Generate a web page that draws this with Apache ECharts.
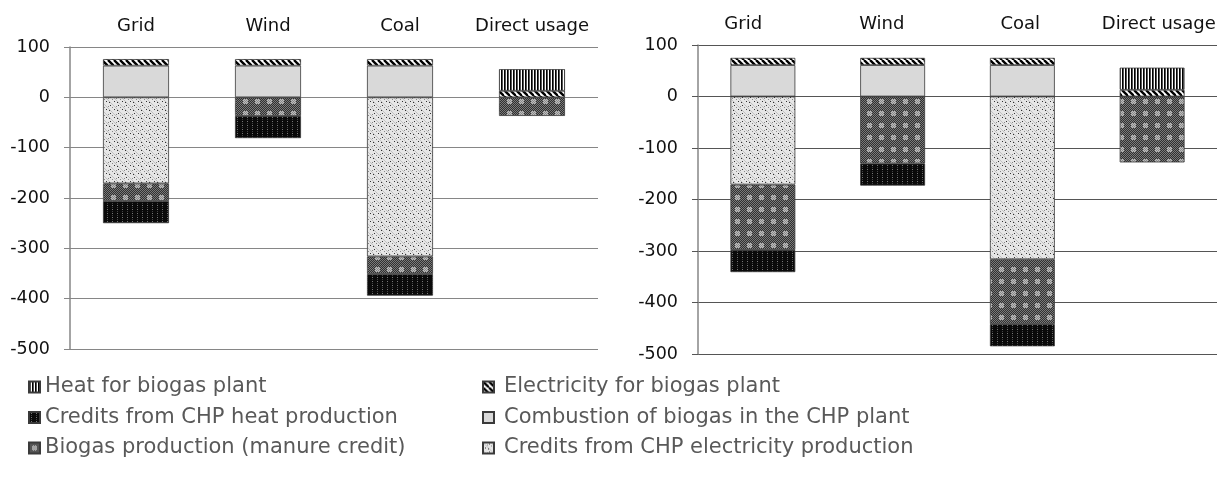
<!DOCTYPE html>
<html lang="en">
<head>
	<meta charset="UTF-8">
	<title>Biogas credits</title>
	<style>body{margin:0;background:#fff;}</style>
</head>
<body>
	<div id="main" style="width:1228px;height:495px;"></div>
	<script src="https://cdn.jsdelivr.net/npm/echarts@6/dist/echarts.min.js"></script>
	<script>
		// categories and stacked values (left = a, right = b)
		var categories = ['Grid', 'Wind', 'Coal', 'Direct usage'];

		var heatPlantA = [null, null, null, 43];
		var elecPlantA = [13, 13, 13, 13];
		var combustionA = [63, 63, 63, null];
		var creditsElecA = [-171, null, -316, null];
		var biogasA = [-35, -37, -35, -37];
		var creditsHeatA = [-44, -44, -43, null];

		var heatPlantB = [null, null, null, 43];
		var elecPlantB = [14, 14, 14, 13];
		var combustionB = [61, 61, 61, null];
		var creditsElecB = [-171, null, -316, null];
		var biogasB = [-127, -130, -126, -128];
		var creditsHeatB = [-43, -43, -43, null];

		var yTicks = { min: -500, max: 100, interval: 100 };

		// small canvas tiles for the hatch fills
		function tile(w, h, draw) {
			var c = document.createElement('canvas');
			c.width = w; c.height = h;
			draw(c.getContext('2d'));
			return { image: c, repeat: 'repeat' };
		}
		var fillHeatPlant = tile(3, 3, function (g) {
			g.fillStyle = '#fff'; g.fillRect(0, 0, 3, 3);
			g.fillStyle = '#000'; g.fillRect(0, 0, 1, 3);
			g.fillStyle = '#555'; g.fillRect(1, 0, 1, 3);
		});
		var fillElecPlant = tile(6, 6, function (g) {
			g.fillStyle = '#fff'; g.fillRect(0, 0, 6, 6);
			g.strokeStyle = '#000'; g.lineWidth = 2.4;
			[-6, 0, 6].forEach(function (o) {
				g.beginPath(); g.moveTo(o, 0); g.lineTo(o + 6, 6); g.stroke();
			});
		});
		var fillCombustion = '#d9d9d9';
		var fillCreditsHeat = tile(5, 4, function (g) {
			g.fillStyle = '#0a0a0a'; g.fillRect(0, 0, 5, 4);
			g.fillStyle = '#777'; g.fillRect(2, 1, 1, 1);
			g.fillStyle = '#444'; g.fillRect(2, 3, 1, 1);
		});
		var fillBiogas = tile(12, 12, function (g) {
			for (var x = 0; x < 12; x++) {
				for (var y = 0; y < 12; y++) {
					var inSq = x >= 3 && x < 8 && y >= 3 && y < 8;
					if (inSq) g.fillStyle = (x + y) % 2 ? '#bdbdbd' : '#8a8a8a';
					else g.fillStyle = (x + y) % 2 ? '#303030' : '#7a7a7a';
					g.fillRect(x, y, 1, 1);
				}
			}
		});
		var fillCreditsElec = tile(8, 8, function (g) {
			g.fillStyle = '#e6e6e6'; g.fillRect(0, 0, 8, 8);
			g.fillStyle = '#c2c2c2';
			for (var i = 0; i < 8; i++) g.fillRect(i, i, 1, 1);
			g.fillStyle = '#333';
			g.fillRect(2, 5, 1, 1); g.fillRect(6, 1, 1, 1); g.fillRect(5, 6, 1, 1);
			g.fillStyle = '#888';
			g.fillRect(0, 3, 1, 1); g.fillRect(4, 2, 1, 1);
		});

		var names = {
			heat: 'Heat for biogas plant',
			elec: 'Electricity for biogas plant',
			comb: 'Combustion of biogas in the CHP plant',
			cElec: 'Credits from CHP electricity production',
			bio: 'Biogas production (manure credit)',
			cHeat: 'Credits from CHP heat production'
		};

		function bar(name, fill, data, idx) {
			return {
				name: name, type: 'bar', stack: 's' + idx, data: data,
				xAxisIndex: idx, yAxisIndex: idx, barWidth: '50%',
				itemStyle: { color: fill, borderColor: '#3a3a3a', borderWidth: 0.8 },
				emphasis: { disabled: true }, animation: false
			};
		}

		function seriesFor(idx, comb, elec, heat, cElec, bio, cHeat) {
			return [
				bar(names.comb, fillCombustion, comb, idx),
				bar(names.elec, fillElecPlant, elec, idx),
				bar(names.heat, fillHeatPlant, heat, idx),
				bar(names.cElec, fillCreditsElec, cElec, idx),
				bar(names.bio, fillBiogas, bio, idx),
				bar(names.cHeat, fillCreditsHeat, cHeat, idx)
			];
		}

		var font = 'DejaVu Sans';
		function yAxis(idx, lineColor) {
			return {
				type: 'value', gridIndex: idx, min: yTicks.min, max: yTicks.max, interval: yTicks.interval,
				axisLine: { show: true, lineStyle: { color: '#868686', width: 1.5 } },
				axisTick: { show: true, length: 6, lineStyle: { color: lineColor } },
				axisLabel: { color: '#111', fontSize: 17.5, fontFamily: font, margin: 20 },
				splitLine: { lineStyle: { color: lineColor, width: 1.2 } }
			};
		}
		function xAxis(idx, showLabel) {
			return {
				type: 'category', gridIndex: idx, data: categories, position: 'top',
				axisLine: { show: false }, axisTick: { show: false },
				axisLabel: { show: showLabel, interval: 0, color: '#111', fontSize: 18, fontFamily: font, margin: 12 }
			};
		}

		var legendText = { color: '#595959', fontSize: 21, fontFamily: font, lineHeight: 24 };

		var myChart = echarts.init(document.getElementById('main'));
		var option = {
			backgroundColor: '#fff',
			animation: false,
			grid: [
				{ left: 70, right: 630, top: 47, bottom: 146 },
				{ left: 698, right: 11, top: 45, bottom: 141 },
				// label row for the right panel
				{ left: 674, right: -4, top: 45, bottom: 141 }
			],
			xAxis: [xAxis(0, true), xAxis(1, false), xAxis(2, true)],
			yAxis: [yAxis(0, '#868686'), yAxis(1, '#555'),
				{ type: 'value', gridIndex: 2, show: false, min: yTicks.min, max: yTicks.max }],
			legend: [
				{
					orient: 'vertical', left: 28, top: 375, itemGap: 6.5, padding: 0,
					itemWidth: 11, itemHeight: 11, icon: 'rect',
					textStyle: legendText, selectedMode: false,
					data: [names.heat, names.cHeat, names.bio]
				},
				{
					orient: 'vertical', left: 482, top: 375, itemGap: 6.5, padding: 0,
					itemWidth: 11, itemHeight: 11, icon: 'rect',
					textStyle: Object.assign({ padding: [0, 0, 0, 5] }, legendText), selectedMode: false,
					data: [names.elec, names.comb, names.cElec]
				}
			],
			series: seriesFor(0, combustionA, elecPlantA, heatPlantA, creditsElecA, biogasA, creditsHeatA)
				.concat(seriesFor(1, combustionB, elecPlantB, heatPlantB, creditsElecB, biogasB, creditsHeatB))
		};
		myChart.setOption(option);
	</script>
</body>
</html>
